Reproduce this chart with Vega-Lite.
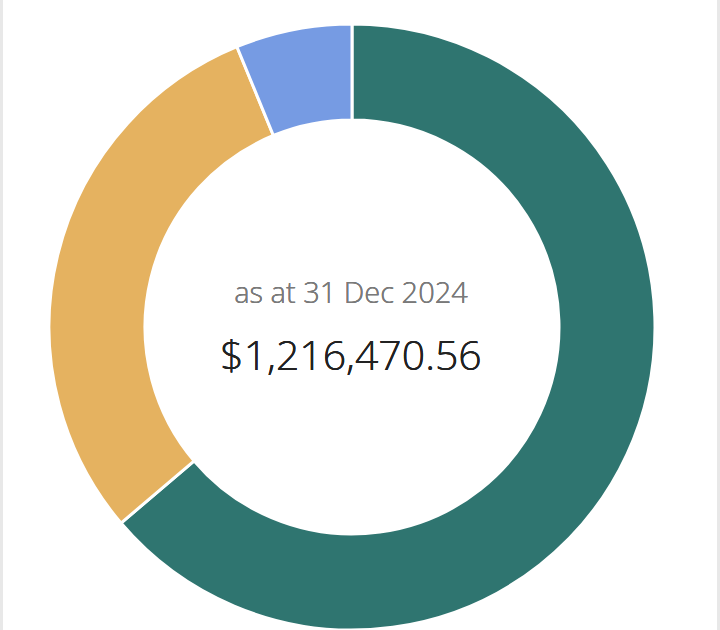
{
  "$schema": "https://vega.github.io/schema/vega-lite/v6.json",
  "width": 714,
  "height": 630,
  "autosize": {"type": "none"},
  "padding": {"left": 3, "right": 3, "top": 0, "bottom": 0},
  "background": "#e8e8e8",
  "view": {"fill": "white", "stroke": null},
  "data": {"values": [
    {"category": "A", "share": 63.8, "rank": 1},
    {"category": "B", "share": 30.0, "rank": 2},
    {"category": "C", "share": 6.2, "rank": 3}
  ]},
  "layer": [
    {
      "mark": {"type": "arc", "innerRadius": 207, "outerRadius": 303, "stroke": "white", "strokeWidth": 3, "xOffset": -8, "yOffset": 12},
      "encoding": {
        "theta": {"field": "share", "type": "quantitative", "stack": true},
        "order": {"field": "rank", "type": "quantitative"},
        "color": {"field": "category", "type": "nominal", "legend": null,
          "scale": {"domain": ["A", "B", "C"], "range": ["#2f7570", "#e5b260", "#769be3"]}}
      }
    },
    {
      "mark": {"type": "text", "text": "as at 31 Dec 2024", "font": "Open Sans", "fontWeight": 300, "fontSize": 29, "color": "#7a7a7a", "align": "center", "baseline": "alphabetic", "xOffset": -9, "yOffset": -12},
      "encoding": {}
    },
    {
      "mark": {"type": "text", "text": "$1,216,470.56", "font": "Open Sans", "fontWeight": 300, "fontSize": 41, "color": "#222222", "align": "center", "baseline": "alphabetic", "xOffset": -9, "yOffset": 55},
      "encoding": {}
    }
  ]
}
